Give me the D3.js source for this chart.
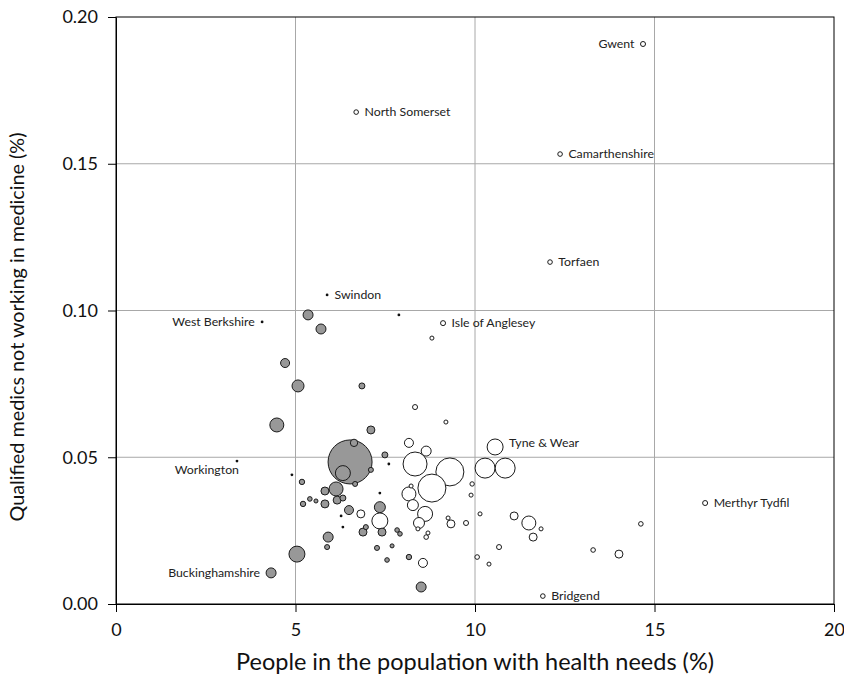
<!DOCTYPE html>
<html lang="en">
<head>
<meta charset="UTF-8">
<script src="https://d3js.org/d3.v7.min.js"></script>
<style>
body { margin:0; background:#fff; }
.grid line { stroke:#a8a8a8; stroke-width:1px; }
.axis text { font-family: Lato, sans-serif; font-size:18px; fill:#111; }
.axis line, .axis path { stroke:#000; }
.lbl { font-family: Lato, sans-serif; font-size:12.3px; fill:#222; }
.title { font-family: Lato, sans-serif; fill:#111; }
</style>
<title>Health needs vs medics</title>
</head>
<body>
<script>
// grey circles: x = people with health needs (%), y = medics not working (%), size = population
var greyNames = ["Buckinghamshire"];
var greyX = [4.32, 5.35, 5.71, 4.71, 5.07, 4.48, 6.85, 7.10, 6.52, 6.63, 6.32, 7.10, 7.49, 6.66, 5.18, 5.82, 6.13, 5.21, 5.40, 5.57,
             5.82, 6.16, 6.32, 6.49, 7.35, 6.88, 6.96, 7.41, 7.83, 7.91, 5.91, 5.88, 5.04, 7.27, 7.69, 7.55, 8.16, 8.50];
var greyY = [0.0106, 0.0985, 0.0937, 0.0821, 0.0743, 0.0610, 0.0743, 0.0593, 0.0484, 0.0549, 0.0446, 0.0457, 0.0508, 0.0409, 0.0416, 0.0385, 0.0392, 0.0341, 0.0358, 0.0351,
             0.0341, 0.0354, 0.0361, 0.0320, 0.0330, 0.0245, 0.0262, 0.0245, 0.0252, 0.0239, 0.0228, 0.0194, 0.0170, 0.0191, 0.0198, 0.0150, 0.0160, 0.0058];
var greySize = [103, 103, 103, 84, 149, 202, 37, 66, 2000, 56, 232, 26, 37, 26, 30, 66, 202, 30, 22, 17,
                66, 66, 37, 84, 125, 66, 26, 66, 22, 22, 103, 26, 264, 26, 17, 22, 30, 103];

// open circles
var openNames = ["Gwent", "North Somerset", "Camarthenshire", "Torfaen", "Isle of Anglesey", "Tyne & Wear", "Merthyr Tydfil", "Bridgend"];
var openX = [14.68, 6.69, 12.37, 12.09, 9.11, 10.56, 16.41, 11.89, 8.80, 8.33, 9.19, 8.16, 8.64, 8.33, 9.30, 8.80, 10.28, 10.84, 8.22, 8.16,
             8.27, 8.61, 8.44, 8.41, 8.69, 8.64, 9.92, 9.89, 9.25, 9.33, 9.75, 10.14, 11.09, 11.50, 11.84, 11.62, 10.67, 10.06, 10.39, 8.55,
             13.29, 14.01, 14.62, 6.82, 7.35];
var openY = [0.1908, 0.1676, 0.1533, 0.1165, 0.0957, 0.0535, 0.0344, 0.0027, 0.0906, 0.0671, 0.0620, 0.0549, 0.0521, 0.0477, 0.0450, 0.0395, 0.0463, 0.0463, 0.0402, 0.0375,
             0.0337, 0.0307, 0.0276, 0.0256, 0.0242, 0.0228, 0.0409, 0.0371, 0.0293, 0.0273, 0.0276, 0.0307, 0.0300, 0.0276, 0.0256, 0.0228, 0.0194, 0.0160, 0.0136, 0.0140,
             0.0184, 0.0170, 0.0273, 0.0307, 0.0283];
var openSize = [26, 22, 22, 22, 26, 264, 26, 22, 17, 26, 17, 84, 103, 595, 810, 810, 413, 413, 17, 202,
                125, 232, 125, 17, 17, 22, 20, 17, 17, 66, 26, 17, 66, 202, 17, 66, 26, 22, 17, 84,
                22, 66, 22, 66, 264];

// tiny points
var dotNames = ["Swindon", "West Berkshire", "Workington"];
var dotX = [5.88, 4.07, 3.37, 7.88, 4.90, 7.60, 7.35, 6.27, 6.32];
var dotY = [0.1053, 0.0961, 0.0487, 0.0985, 0.0440, 0.0477, 0.0378, 0.0300, 0.0262];

var xTicks = [0, 5, 10, 15, 20];
var yTicks = [0, 0.05, 0.10, 0.15, 0.20];

var margin = {top: 17, right: 10, bottom: 74, left: 116},
    width = 844 - margin.left - margin.right,
    height = 678 - margin.top - margin.bottom;

var svg = d3.select("body").append("svg")
    .attr("width", 844)
    .attr("height", 678)
  .append("g")
    .attr("transform", "translate(" + margin.left + "," + margin.top + ")");

var x = d3.scaleLinear().domain([0, 20]).range([0, width]);
var y = d3.scaleLinear().domain([0, 0.2]).range([height, 0]);
var r = d3.scaleSqrt().domain([0, 2000]).range([0, 22]);

// grid
var grid = svg.append("g").attr("class", "grid");
grid.selectAll(".gx").data(xTicks.slice(1, -1)).enter().append("line")
    .attr("x1", function(d) { return x(d); })
    .attr("x2", function(d) { return x(d); })
    .attr("y1", 0).attr("y2", height);
grid.selectAll(".gy").data(yTicks.slice(1, -1)).enter().append("line")
    .attr("y1", function(d) { return y(d); })
    .attr("y2", function(d) { return y(d); })
    .attr("x1", 0).attr("x2", width);

// frame
svg.append("rect")
    .attr("width", width).attr("height", height)
    .attr("fill", "none").attr("stroke", "#000");

svg.append("g")
    .attr("class", "axis")
    .attr("transform", "translate(0," + height + ")")
    .call(d3.axisBottom(x).tickValues(xTicks).tickSize(8).tickSizeOuter(0).tickPadding(11));

svg.append("g")
    .attr("class", "axis")
    .call(d3.axisLeft(y).tickValues(yTicks).tickSize(8).tickSizeOuter(0).tickPadding(10).tickFormat(d3.format(".2f")));

// points
var pts = [];
greyX.forEach(function(d, i) {
  pts.push({x: d, y: greyY[i], s: greySize[i], g: "grey", name: greyNames[i]});
});
openX.forEach(function(d, i) {
  pts.push({x: d, y: openY[i], s: openSize[i], g: "open", name: openNames[i]});
});
dotX.forEach(function(d, i) {
  pts.push({x: d, y: dotY[i], s: 0, g: "dot", name: dotNames[i]});
});
pts.sort(function(a, b) { return b.s - a.s; });

function rad(d) { return d.g == "dot" ? 1.4 : r(d.s); }

svg.selectAll("circle.pt").data(pts).enter().append("circle")
    .attr("class", "pt")
    .attr("cx", function(d) { return x(d.x); })
    .attr("cy", function(d) { return y(d.y); })
    .attr("r", rad)
    .attr("fill", function(d) { return d.g == "grey" ? "#989898" : (d.g == "open" ? "#fff" : "#111"); })
    .attr("stroke", function(d) { return d.g == "dot" ? "none" : "#1a1a1a"; })
    .attr("stroke-width", 1);

// labels
var placeLeft = {"Gwent": 1, "West Berkshire": 1, "Buckinghamshire": 1, "Workington": 1};
svg.selectAll("text.lbl").data(pts.filter(function(d) { return d.name; })).enter().append("text")
    .attr("class", "lbl")
    .attr("x", function(d) {
      var off = rad(d) + 6;
      if (d.name == "Workington") return x(d.x) + 2;
      return placeLeft[d.name] ? x(d.x) - off : x(d.x) + off;
    })
    .attr("y", function(d) {
      if (d.name == "Workington") return y(d.y) + 9;
      if (d.name == "Tyne & Wear") return y(d.y) - 4;
      return y(d.y);
    })
    .attr("dy", "0.35em")
    .attr("text-anchor", function(d) { return placeLeft[d.name] ? "end" : "start"; })
    .text(function(d) { return d.name; });

// axis titles
svg.append("text")
    .attr("class", "title")
    .style("font-size", "23.5px")
    .attr("x", width / 2)
    .attr("y", height + 58)
    .attr("dy", "0.35em")
    .attr("text-anchor", "middle")
    .text("People in the population with health needs (%)");

svg.append("text")
    .attr("class", "title")
    .style("font-size", "19.8px")
    .attr("transform", "rotate(-90)")
    .attr("x", -(327 - margin.top))
    .attr("y", 17 - margin.left)
    .attr("dy", "0.35em")
    .attr("text-anchor", "middle")
    .text("Qualified medics not working in medicine (%)");
</script>
</body>
</html>
